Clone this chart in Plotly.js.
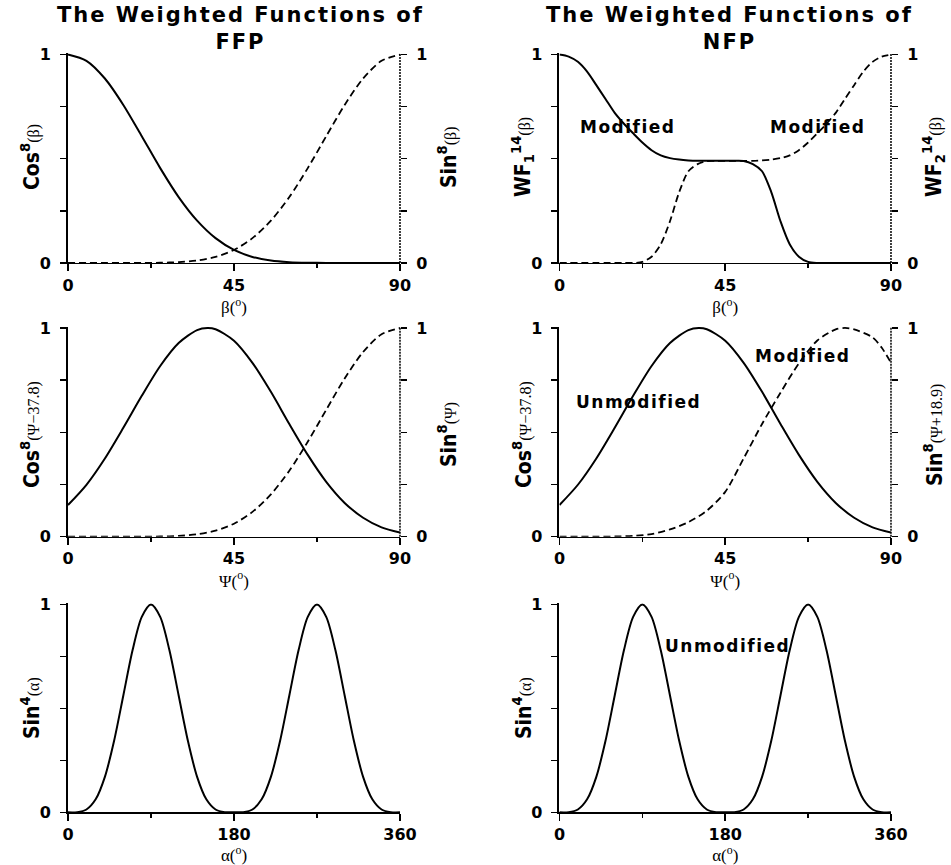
<!DOCTYPE html>
<html>
<head>
<meta charset="utf-8">
<script src="https://cdn.plot.ly/plotly-3.0.1.min.js"></script>
<style>html,body{margin:0;padding:0;background:#fff;}#chart{width:951px;height:865px;}</style>
</head>
<body>
<div id="chart"></div>
<script>
// ---------- data ----------
// Panel 1 (FFP, beta)
const betaDeg = [0,5,10,15,20,25,30,35,40,45,50,55,60,65,70,75,80,85,90];
const ffpCos8Beta = [1,0.970,0.885,0.758,0.608,0.455,0.316,0.203,0.119,0.0625,0.029,0.0117,0.0039,0.001,0.0002,0,0,0,0];
const ffpSin8Beta = [0,0,0,0,0.0002,0.001,0.0039,0.0117,0.029,0.0625,0.119,0.203,0.316,0.455,0.608,0.758,0.885,0.970,1];

// Panel 2 (NFP, beta, modified)
const betaFine = [0,2.5,5,7.5,10,12.5,15,17.5,20,22.5,25,27.5,30,32.5,35,37.5,40,42.5,45,47.5,50,52.5,55,57.5,60,62.5,65,67.5,70,72.5,75,77.5,80,82.5,85,87.5,90];
const nfpWF1 = [1,0.99,0.965,0.918,0.853,0.787,0.72,0.668,0.622,0.578,0.541,0.516,0.503,0.496,0.492,0.49,0.49,0.49,0.49,0.49,0.489,0.474,0.44,0.34,0.2,0.09,0.03,0.005,0,0,0,0,0,0,0,0,0];
const nfpWF2 = [0,0,0,0,0,0,0,0,0,0.005,0.03,0.09,0.2,0.34,0.44,0.474,0.489,0.49,0.49,0.49,0.49,0.49,0.492,0.496,0.503,0.516,0.541,0.578,0.622,0.668,0.72,0.787,0.853,0.918,0.965,0.99,1];

// Panels 3 & 4 (psi)
const psiSolid = [0,5,10,15,20,25,30,35,37.8,40,45,50,55,60,65,70,75,80,85,90];
const cos8Psi = [0.152,0.249,0.375,0.522,0.675,0.818,0.928,0.990,1,0.994,0.939,0.833,0.694,0.540,0.392,0.263,0.162,0.091,0.045,0.020];
const psiDeg = [0,5,10,15,20,25,30,35,40,45,50,55,60,65,70,75,80,85,90];
const ffpSin8Psi = [0,0,0,0,0.0002,0.001,0.0039,0.0117,0.029,0.0625,0.119,0.203,0.316,0.455,0.608,0.758,0.885,0.970,1];
const psiMod = [0,5,10,15,20,25,30,35,40,45,50,55,60,65,70,75,77.5,80,85,87.5,90];
const nfpSin8PsiMod = [0,0,0,0.001,0.004,0.013,0.035,0.07,0.125,0.215,0.375,0.54,0.69,0.83,0.94,0.993,1,0.993,0.955,0.905,0.833];

// Panels 5 & 6 (alpha)
const alphaDeg = [0,10,20,30,40,50,60,70,80,90,100,110,120,130,140,150,160,170,180,190,200,210,220,230,240,250,260,270,280,290,300,310,320,330,340,350,360];
const sin4Alpha = [0,0.0009,0.0137,0.0625,0.1707,0.3444,0.5625,0.7797,0.9406,1,0.9406,0.7797,0.5625,0.3444,0.1707,0.0625,0.0137,0.0009,0,0.0009,0.0137,0.0625,0.1707,0.3444,0.5625,0.7797,0.9406,1,0.9406,0.7797,0.5625,0.3444,0.1707,0.0625,0.0137,0.0009,0];

// ticks
const betaTicks = [0,45,90];
const betaMinor = [22.5,67.5];
const alphaTicks = [0,180,360];
const alphaMinor = [90,270];
const yTickVals = [0,1];
const yMinor = [0.25,0.5,0.75];

// texts
const colTitles = ['The Weighted Functions of', 'FFP', 'NFP'];
const serif = "font-family:'Liberation Serif',serif;font-weight:normal;font-size:16px";
const par = s => `<span style="${serif}">${s}</span>`;
const leftTitles = [
  'Cos<sup>8</sup>' + par('(β)'),
  'WF<sub>1</sub><sup>14</sup>' + par('(β)'),
  'Cos<sup>8</sup>' + par('(Ψ−37.8)'),
  'Cos<sup>8</sup>' + par('(Ψ−37.8)'),
  'Sin<sup>4</sup>' + par('(α)'),
  'Sin<sup>4</sup>' + par('(α)')
];
const rightTitles = [
  'Sin<sup>8</sup>' + par('(β)'),
  'WF<sub>2</sub><sup>14</sup>' + par('(β)'),
  'Sin<sup>8</sup>' + par('(Ψ)'),
  'Sin<sup>8</sup>' + par('(Ψ+18.9)'),
  '', ''
];
const xTitles = ['β(<sup>o</sup>)','β(<sup>o</sup>)','Ψ(<sup>o</sup>)','Ψ(<sup>o</sup>)','α(<sup>o</sup>)','α(<sup>o</sup>)'];

// ---------- layout ----------
const W = 951, H = 865;
const colX = [[0.0715,0.4206],[0.5883,0.9369]];
const rowY = [[0.6960,0.9384],[0.3795,0.6223],[0.0609,0.3025]];
// pixel centres of the rotated y-axis titles
const leftTitleX = [30, 522];
const rightTitleX = [447, 933];
const titleY = [157, 435, 708];
const tickFont = {family:'DejaVu Sans', size:16, weight:'bold', color:'#000'};
const yTitleFont = {family:"'Liberation Sans Narrow','DejaVu Sans Condensed','Liberation Sans',sans-serif", size:21, weight:'bold', color:'#000'};
const xTitleFont = {family:"'Liberation Serif',serif", size:17, color:'#000'};

const layout = {
  width:W, height:H, showlegend:false,
  margin:{l:0,r:0,t:0,b:0},
  paper_bgcolor:'#fff', plot_bgcolor:'rgba(0,0,0,0)',
  annotations:[], shapes:[]
};

function id(n){return n===1?'':String(n);}

for(let p=1;p<=6;p++){
  const row = Math.floor((p-1)/2), col=(p-1)%2;
  const isAlpha = row===2;
  const xr = isAlpha?[0,360]:[0,90];
  layout['xaxis'+id(p)] = {
    domain:colX[col], anchor:'y'+id(p), range:xr,
    tickmode:'array', tickvals:isAlpha?alphaTicks:betaTicks,
    ticks:'outside', ticklen:7, tickwidth:1.5, tickcolor:'#000',
    minor:{tickvals:isAlpha?alphaMinor:betaMinor, ticks:'outside', ticklen:4, tickwidth:1.5, tickcolor:'#000'},
    showline:true, linewidth:1.5, linecolor:'#000',
    showgrid:false, zeroline:false, tickfont:tickFont,
    title:{text:xTitles[p-1], font:xTitleFont, standoff:0}
  };
  const yCommon = {
    range:[0,1.006], tickmode:'array', tickvals:yTickVals,
    ticks:'outside', ticklen:6, tickwidth:1.5, tickcolor:'#000',
    minor:{tickvals:yMinor, ticks:'outside', ticklen:6, tickwidth:1.5, tickcolor:'#000'},
    showgrid:false, zeroline:false, tickfont:tickFont, ticklabelstandoff:6
  };
  layout['yaxis'+id(p)] = Object.assign({}, yCommon, {
    domain:rowY[row], anchor:'x'+id(p), showline:true, linewidth:2, linecolor:'#000'
  });
  layout['yaxis'+(p+6)] = Object.assign({}, yCommon, {
    overlaying:'y'+id(p), anchor:'x'+id(p), side:'right',
    showline:isAlpha, linewidth:1.5, linecolor:'#000'
  });
  if(!isAlpha){
    layout.shapes.push({type:'line', xref:'x'+id(p)+' domain', yref:'y'+id(p)+' domain',
      x0:1, x1:1, y0:0, y1:1, line:{color:'#000', width:1.5, dash:'2px,1px'}});
  }
  // rotated y-axis titles
  layout.annotations.push({xref:'paper', yref:'paper', x:leftTitleX[col]/W, y:1-titleY[row]/H,
    xanchor:'center', yanchor:'middle', textangle:-90, showarrow:false, text:leftTitles[p-1], font:yTitleFont});
  if(rightTitles[p-1]){
    layout.annotations.push({xref:'paper', yref:'paper', x:rightTitleX[col]/W, y:1-titleY[row]/H,
      xanchor:'center', yanchor:'middle', textangle:-90, showarrow:false, text:rightTitles[p-1], font:yTitleFont});
  }
}

// column titles
const sp = s => `<span style="letter-spacing:2px">${s}</span>`;
const headFont = {family:'DejaVu Sans', size:21, weight:'bold', color:'#000'};
layout.annotations.push({xref:'paper', yref:'paper', x:0.2534, y:0.999, xanchor:'center', yanchor:'top', showarrow:false,
  text:sp(colTitles[0])+'<br>'+sp(colTitles[1]), font:headFont});
layout.annotations.push({xref:'paper', yref:'paper', x:0.7676, y:0.999, xanchor:'center', yanchor:'top', showarrow:false,
  text:sp(colTitles[0])+'<br>'+sp(colTitles[2]), font:headFont});

// in-plot labels
const labFont = {family:'DejaVu Sans', size:17, weight:'bold', color:'#000'};
const lab = s => `<span style="letter-spacing:1.5px">${s}</span>`;
const labels = [
  {p:2, x:18.6, y:0.652, t:'Modified'},
  {p:2, x:70.3, y:0.652, t:'Modified'},
  {p:4, x:66.2, y:0.865, t:'Modified'},
  {p:4, x:21.4, y:0.643, t:'Unmodified'},
  {p:6, x:183, y:0.80, t:'Unmodified'}
];
labels.forEach(l=>layout.annotations.push({xref:'x'+id(l.p), yref:'y'+id(l.p), x:l.x, y:l.y,
  showarrow:false, text:lab(l.t), font:labFont, xanchor:'center', yanchor:'middle'}));

// ---------- traces ----------
const solid = {color:'#000', width:2, shape:'spline', smoothing:0.8};
const dashed = {color:'#000', width:1.8, shape:'spline', smoothing:0.8, dash:'7px,4px'};
const data = [
  {x:betaDeg, y:ffpCos8Beta, xaxis:'x', yaxis:'y', mode:'lines', line:solid, name:'Cos8(β)'},
  {x:betaDeg, y:ffpSin8Beta, xaxis:'x', yaxis:'y7', mode:'lines', line:dashed, name:'Sin8(β)'},
  {x:betaFine, y:nfpWF1, xaxis:'x2', yaxis:'y2', mode:'lines', line:solid, name:'WF1'},
  {x:betaFine, y:nfpWF2, xaxis:'x2', yaxis:'y8', mode:'lines', line:dashed, name:'WF2'},
  {x:psiSolid, y:cos8Psi, xaxis:'x3', yaxis:'y3', mode:'lines', line:solid, name:'Cos8(Ψ-37.8)'},
  {x:psiDeg, y:ffpSin8Psi, xaxis:'x3', yaxis:'y9', mode:'lines', line:dashed, name:'Sin8(Ψ)'},
  {x:psiSolid, y:cos8Psi, xaxis:'x4', yaxis:'y4', mode:'lines', line:solid, name:'Cos8(Ψ-37.8)'},
  {x:psiMod, y:nfpSin8PsiMod, xaxis:'x4', yaxis:'y10', mode:'lines', line:dashed, name:'Sin8(Ψ+18.9)'},
  {x:alphaDeg, y:sin4Alpha, xaxis:'x5', yaxis:'y5', mode:'lines', line:solid, name:'Sin4(α)'},
  {x:alphaDeg, y:sin4Alpha, xaxis:'x6', yaxis:'y6', mode:'lines', line:solid, name:'Sin4(α)'}
];

Plotly.newPlot('chart', data, layout, {staticPlot:true, displayModeBar:false});
</script>
</body>
</html>
